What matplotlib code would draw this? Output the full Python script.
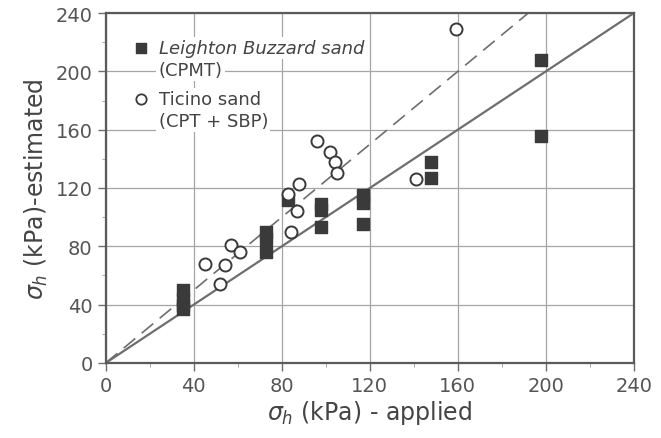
import matplotlib.pyplot as plt
import numpy as np

# Leighton Buzzard sand (CPMT)
lb_applied = [35, 35, 35, 35, 73, 73, 73, 83, 98, 98, 98, 117, 117, 117, 148, 148, 198, 198]
lb_estimated = [50, 44, 40, 37, 90, 85, 76, 112, 109, 105, 93, 115, 110, 95, 138, 127, 208, 156]

# Ticino sand (CPT + SBP)
ts_applied = [45, 52, 54, 57, 61, 84, 87, 83, 88, 96, 102, 104, 105, 141, 159]
ts_estimated = [68, 54, 67, 81, 76, 90, 104, 116, 123, 152, 145, 138, 130, 126, 229]

ticks = [0, 40, 80, 120, 160, 200, 240]
dashed_slope = 1.25

grey = '#6e6e6e'
dark = '#3a3a3a'

fig = plt.figure(figsize=(6.61, 4.39), dpi=100)
ax = fig.add_axes([0.160, 0.171, 0.799, 0.797])

ax.set_xlim(0, 240)
ax.set_ylim(0, 240)
ax.set_xticks(ticks)
ax.set_yticks(ticks)
ax.set_xticks(np.arange(20, 240, 40), minor=True)
ax.set_yticks(np.arange(20, 240, 40), minor=True)
ax.grid(True, which='major', color='#a5a5a5', linewidth=0.9)
ax.set_axisbelow(True)

for s in ax.spines.values():
    s.set_color('#5a5a5a')
    s.set_linewidth(1.6)

ax.tick_params(which='major', length=6, width=1.0, colors=grey, labelsize=14, labelcolor='#555555')
ax.tick_params(which='minor', length=3, width=0.8, colors='#aaaaaa')

# 1:1 line and upper bound line
ax.plot([0, 240], [0, 240], color=grey, linewidth=1.6, zorder=2)
ax.plot([0, 240 / dashed_slope], [0, 240], color=grey, linewidth=1.2,
        dashes=(9, 5), zorder=2)

ax.scatter(lb_applied, lb_estimated, marker='s', s=75, color=dark,
           edgecolors=dark, zorder=3)
ax.scatter(ts_applied, ts_estimated, marker='o', s=75, facecolors='white',
           edgecolors=dark, linewidths=1.4, zorder=4)

# legend drawn as text over the grid
box = dict(facecolor='white', edgecolor='none', pad=1.5)
ax.scatter([16], [216], marker='s', s=55, color=dark, zorder=5)
ax.text(24, 216, 'Leighton Buzzard sand', fontsize=13, style='italic',
        color='#444444', va='center', bbox=box, zorder=5)
ax.text(24, 201, '(CPMT)', fontsize=13, color='#444444', va='center',
        bbox=box, zorder=5)
ax.scatter([16], [181], marker='o', s=55, facecolors='white',
           edgecolors=dark, linewidths=1.3, zorder=5)
ax.text(24, 181, 'Ticino sand', fontsize=13, color='#444444', va='center',
        bbox=box, zorder=5)
ax.text(24, 166, '(CPT + SBP)', fontsize=13, color='#444444', va='center',
        bbox=box, zorder=5)

ax.set_xlabel(r'$\sigma_h$ (kPa) - applied', fontsize=17, color='#444444', labelpad=2)
ax.set_ylabel(r'$\sigma_h$ (kPa)-estimated', fontsize=17, color='#444444', labelpad=4)

fig.savefig('out.png', dpi=100)
